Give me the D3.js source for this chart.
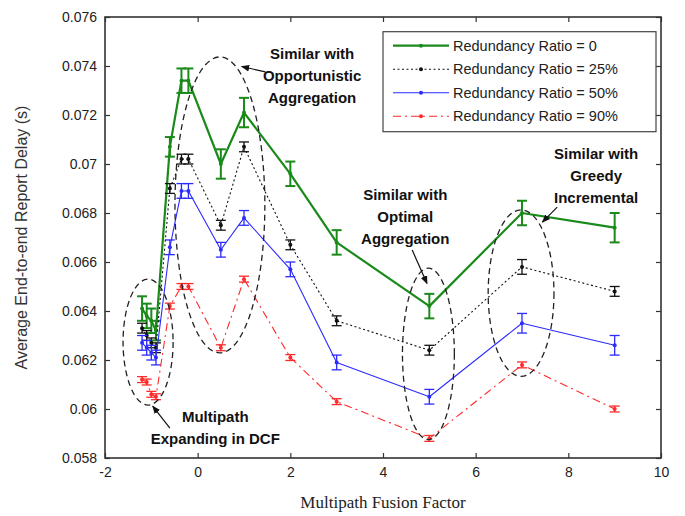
<!DOCTYPE html>
<html>
<head>
<meta charset="utf-8">
<script src="https://cdn.jsdelivr.net/npm/d3@7"></script>
<style>
  body { margin: 0; background: #fff; }
  svg text { font-family: "Liberation Sans", Arial, sans-serif; }
</style>
</head>
<body>
<svg id="chart"></svg>
<script>
// x positions of the simulations (multipath fusion factor)
const fusionFactor = [-1.2, -1.1, -1.0, -0.9, -0.6, -0.35, -0.2, 0.5, 1, 2, 3, 5, 7, 9];

const ratio0 = [0.0641, 0.0638, 0.0636, 0.0632, 0.0707, 0.0734, 0.0734, 0.0700, 0.0721, 0.0696, 0.0668, 0.0642, 0.0680, 0.0674];
const ratio0Err = [0.0005, 0.0005, 0.0005, 0.0004, 0.0004, 0.0005, 0.0005, 0.0006, 0.0006, 0.0005, 0.0005, 0.0005, 0.0005, 0.0006];

const ratio25 = [0.0633, 0.0630, 0.0627, 0.0625, 0.0690, 0.0702, 0.0702, 0.0675, 0.0707, 0.0667, 0.0636, 0.0624, 0.0658, 0.0648];
const ratio25Err = [0.0002, 0.0002, 0.0002, 0.0002, 0.0002, 0.0002, 0.0002, 0.0002, 0.0002, 0.0002, 0.0002, 0.0002, 0.0003, 0.0002];

const ratio50 = [0.0627, 0.0625, 0.0623, 0.0621, 0.0666, 0.0689, 0.0689, 0.0665, 0.0678, 0.0657, 0.0619, 0.0605, 0.0635, 0.0626];
const ratio50Err = [0.0003, 0.0003, 0.0003, 0.0003, 0.0003, 0.0003, 0.0003, 0.0003, 0.0003, 0.0003, 0.0003, 0.0003, 0.0004, 0.0004];

const ratio90 = [0.0612, 0.0611, 0.0606, 0.0605, 0.0642, 0.0650, 0.0650, 0.0625, 0.0653, 0.0621, 0.0603, 0.0588, 0.0618, 0.0600];
const ratio90Err = [0.00012, 0.00012, 0.00012, 0.00012, 0.00012, 0.00012, 0.00012, 0.00012, 0.00012, 0.00012, 0.00012, 0.00012, 0.00012, 0.00012];

const seriesNames = ["Redundancy Ratio = 0", "Redundancy Ratio = 25%", "Redundancy Ratio = 50%", "Redundancy Ratio = 90%"];

const xTicks = [-2, 0, 2, 4, 6, 8, 10];
const yTicks = [0.058, 0.06, 0.062, 0.064, 0.066, 0.068, 0.07, 0.072, 0.074, 0.076];

// dashed ellipses marking similar regions (data units)
const ellipseCx = [-1.07, 0.48, 4.98, 6.98];
const ellipseCy = [0.06273, 0.06833, 0.06225, 0.06473];
const ellipseRx = [0.54, 0.97, 0.56, 0.71];
const ellipseRy = [0.00257, 0.00604, 0.0035, 0.0034];

// annotation labels
const noteLines = [
  ["Similar with", "Opportunistic", "Aggregation"],
  ["Similar with", "Optimal", "Aggregation"],
  ["Similar with", "Greedy", "Incremental"],
  ["Multipath", "Expanding in DCF"]
];
const noteX = [2.47, 4.48, 8.6, 0.38];
const noteY = [0.07429, 0.06853, 0.07022, 0.05947];
// arrows: from -> to
const arrowFrom = [[1.46, 0.07376], [4.63, 0.06649], [7.76, 0.06824], [-0.6, 0.05922]];
const arrowTo = [[0.95, 0.07398], [4.95, 0.06512], [7.44, 0.06763], [-0.97, 0.06012]];

const dimensions = {
  width: 685,
  height: 516,
  margin: { top: 17, bottom: 58, left: 105, right: 24 }
};

const styles = [
  { color: "#1a8a1a", width: 2.2, dash: null, errWidth: 2 },
  { color: "#111", width: 1.1, dash: "2,2.5", errWidth: 1.3 },
  { color: "#2b2bff", width: 1.1, dash: null, errWidth: 1.3 },
  { color: "#ff2a2a", width: 1.1, dash: "8,4,2,4", errWidth: 1.3 }
];

const svg = d3.select("#chart")
  .attr("width", dimensions.width)
  .attr("height", dimensions.height);

const plotW = dimensions.width - dimensions.margin.left - dimensions.margin.right;
const plotH = dimensions.height - dimensions.margin.top - dimensions.margin.bottom;

const xScale = d3.scaleLinear().domain([-2, 10]).range([0, plotW]);
const yScale = d3.scaleLinear().domain([0.058, 0.076]).range([plotH, 0]);

const g = svg.append("g")
  .attr("transform", `translate(${dimensions.margin.left},${dimensions.margin.top})`);

// axes with inside ticks, matlab style box
const axisColor = "#333";
const tickFmt = d => d3.format("")(+d.toFixed(3));

g.append("g")
  .attr("transform", `translate(0,${plotH})`)
  .call(d3.axisBottom(xScale).tickValues(xTicks).tickSizeInner(-5).tickSizeOuter(0).tickPadding(9).tickFormat(d => d))
  .call(a => a.select(".domain").remove());

g.append("g")
  .call(d3.axisLeft(yScale).tickValues(yTicks).tickSizeInner(-5).tickSizeOuter(0).tickPadding(8).tickFormat(tickFmt))
  .call(a => a.select(".domain").remove());

g.append("g")
  .call(d3.axisTop(xScale).tickValues(xTicks).tickSizeInner(-5).tickSizeOuter(0).tickFormat(""))
  .call(a => a.select(".domain").remove());

g.append("g")
  .attr("transform", `translate(${plotW},0)`)
  .call(d3.axisRight(yScale).tickValues(yTicks).tickSizeInner(-5).tickSizeOuter(0).tickFormat(""))
  .call(a => a.select(".domain").remove());

g.selectAll(".tick line").attr("stroke", axisColor).attr("stroke-width", 1.2);
g.selectAll(".tick text")
  .attr("fill", "#222")
  .style("font-size", "14px")
  .style("font-family", "'Liberation Sans', Arial, sans-serif");

g.append("rect")
  .attr("width", plotW)
  .attr("height", plotH)
  .attr("fill", "none")
  .attr("stroke", axisColor)
  .attr("stroke-width", 1.6);

// data series
const allSeries = [
  { values: ratio0, err: ratio0Err },
  { values: ratio25, err: ratio25Err },
  { values: ratio50, err: ratio50Err },
  { values: ratio90, err: ratio90Err }
];

allSeries.forEach((s, i) => {
  const st = styles[i];
  const pts = fusionFactor.map((x, j) => ({ x, y: s.values[j], e: s.err[j] }));

  g.append("path")
    .datum(pts)
    .attr("d", d3.line().x(d => xScale(d.x)).y(d => yScale(d.y)))
    .attr("fill", "none")
    .attr("stroke", st.color)
    .attr("stroke-width", st.width)
    .attr("stroke-dasharray", st.dash)
    .attr("stroke-linejoin", "round");

  const bars = g.append("g")
    .selectAll("g")
    .data(pts)
    .join("g")
    .attr("stroke", st.color)
    .attr("stroke-width", st.errWidth);

  bars.append("line")
    .attr("x1", d => xScale(d.x)).attr("x2", d => xScale(d.x))
    .attr("y1", d => yScale(d.y - d.e)).attr("y2", d => yScale(d.y + d.e));
  bars.append("line")
    .attr("x1", d => xScale(d.x) - 5).attr("x2", d => xScale(d.x) + 5)
    .attr("y1", d => yScale(d.y - d.e)).attr("y2", d => yScale(d.y - d.e));
  bars.append("line")
    .attr("x1", d => xScale(d.x) - 5).attr("x2", d => xScale(d.x) + 5)
    .attr("y1", d => yScale(d.y + d.e)).attr("y2", d => yScale(d.y + d.e));

  g.append("g")
    .selectAll("circle")
    .data(pts)
    .join("circle")
    .attr("cx", d => xScale(d.x))
    .attr("cy", d => yScale(d.y))
    .attr("r", 2)
    .attr("fill", st.color);
});

// ellipses
g.append("g")
  .selectAll("ellipse")
  .data(ellipseCx)
  .join("ellipse")
  .attr("cx", (d, i) => xScale(d))
  .attr("cy", (d, i) => yScale(ellipseCy[i]))
  .attr("rx", (d, i) => xScale(ellipseRx[i]) - xScale(0))
  .attr("ry", (d, i) => yScale(0.058) - yScale(0.058 + ellipseRy[i]))
  .attr("fill", "none")
  .attr("stroke", "#222")
  .attr("stroke-width", 1.3)
  .attr("stroke-dasharray", "6,4");

// arrows
svg.append("defs")
  .append("marker")
  .attr("id", "head")
  .attr("viewBox", "0 0 10 10")
  .attr("refX", 9).attr("refY", 5)
  .attr("markerWidth", 7).attr("markerHeight", 7)
  .attr("orient", "auto")
  .append("path")
  .attr("d", "M0,1 L10,5 L0,9 z")
  .attr("fill", "#111");

g.append("g")
  .selectAll("line")
  .data(arrowFrom)
  .join("line")
  .attr("x1", d => xScale(d[0]))
  .attr("y1", d => yScale(d[1]))
  .attr("x2", (d, i) => xScale(arrowTo[i][0]))
  .attr("y2", (d, i) => yScale(arrowTo[i][1]))
  .attr("stroke", "#111")
  .attr("stroke-width", 1.2)
  .attr("marker-end", "url(#head)");

// annotation text
noteLines.forEach((lines, i) => {
  const t = g.append("text")
    .attr("text-anchor", "middle")
    .attr("font-weight", "bold")
    .style("font-size", "15px")
    .attr("fill", "#111");
  lines.forEach((line, k) => {
    t.append("tspan")
      .attr("x", xScale(noteX[i]))
      .attr("y", yScale(noteY[i]) + k * 22)
      .text(line);
  });
});

// legend
const legend = g.append("g").attr("transform", `translate(${xScale(4.0)},${yScale(0.0754)})`);
legend.append("rect")
  .attr("width", 273)
  .attr("height", 100)
  .attr("fill", "#fff")
  .attr("stroke", "#444")
  .attr("stroke-width", 1.2);

seriesNames.forEach((name, i) => {
  const st = styles[i];
  const row = legend.append("g").attr("transform", `translate(0,${14 + i * 23.5})`);
  row.append("line")
    .attr("x1", 10).attr("x2", 66)
    .attr("stroke", st.color)
    .attr("stroke-width", st.width)
    .attr("stroke-dasharray", st.dash);
  row.append("circle").attr("cx", 38).attr("r", 2).attr("fill", st.color);
  row.append("text")
    .attr("x", 70)
    .attr("dy", "0.35em")
    .style("font-size", "14.5px")
    .attr("fill", "#222")
    .text(name);
});

// axis labels
svg.append("text")
  .attr("text-anchor", "middle")
  .attr("transform", `translate(${dimensions.margin.left + plotW / 2},${dimensions.height - 8})`)
  .style("font-family", "'Liberation Serif', 'DejaVu Serif', serif")
  .style("font-size", "17px")
  .attr("fill", "#222")
  .text("Multipath Fusion Factor");

svg.append("text")
  .attr("text-anchor", "middle")
  .attr("transform", `translate(27,${dimensions.margin.top + plotH / 2}) rotate(-90)`)
  .style("font-size", "16px")
  .attr("fill", "#333")
  .text("Average End-to-end Report Delay (s)");
</script>
</body>
</html>
